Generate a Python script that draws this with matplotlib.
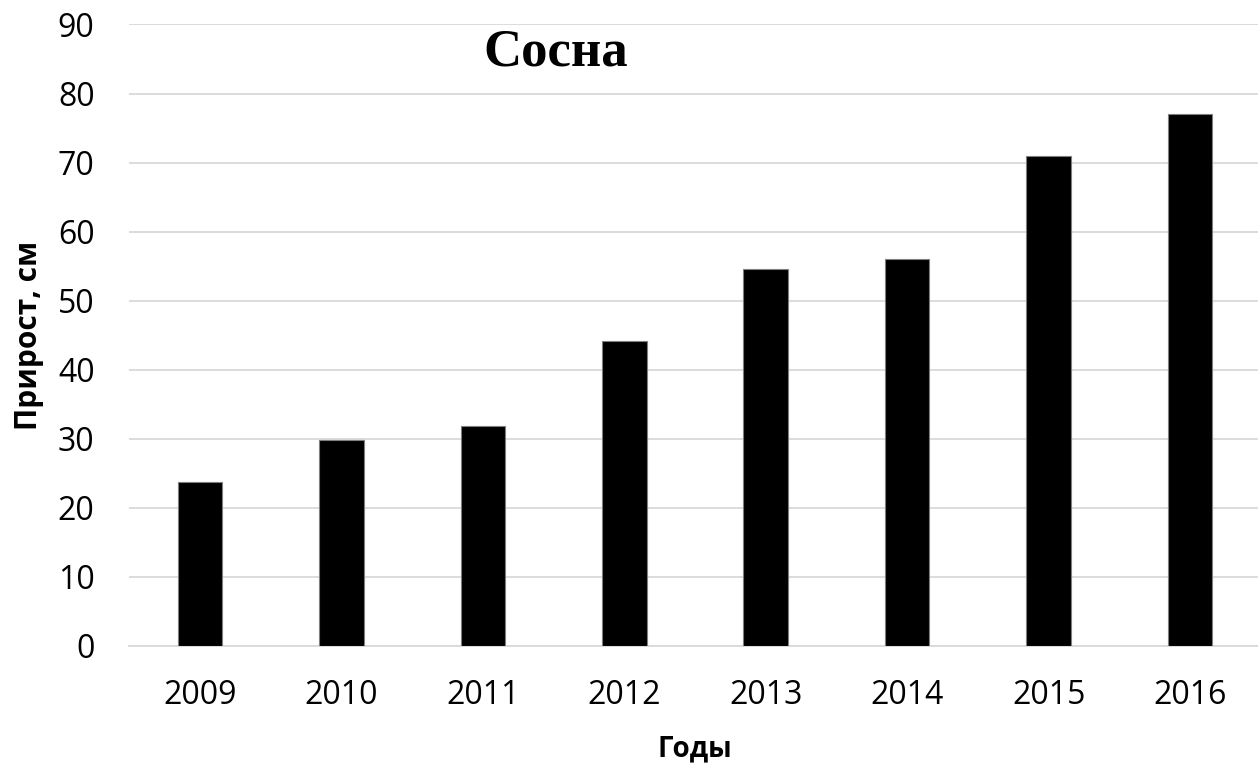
import matplotlib
matplotlib.use("Agg")
import matplotlib.pyplot as plt

# data
years = ["2009", "2010", "2011", "2012", "2013", "2014", "2015", "2016"]
growth = [23.7, 29.9, 31.9, 44.1, 54.6, 56.0, 71.0, 77.0]
y_ticks = list(range(0, 100, 10))

plt.rcParams["font.family"] = ["Open Sans", "DejaVu Sans"]

fig = plt.figure(figsize=(12.58, 7.68), dpi=100)
ax = fig.add_axes([0.1028, 0.1589, 0.8994, 0.8092])

x = range(len(years))
ax.bar(x, growth, width=0.315, color="black", edgecolor="#7f7f7f", linewidth=0.8, zorder=3)

ax.set_xlim(-0.5, len(years) - 0.5)
ax.set_ylim(0, 90)
ax.set_yticks(y_ticks)
ax.set_xticks(list(x))
ax.set_xticklabels(years)
ax.yaxis.grid(True, color="#d9d9d9", linewidth=1.3, zorder=0)
ax.tick_params(axis="both", length=0, labelsize=23, colors="black")
ax.tick_params(axis="x", pad=24)
ax.tick_params(axis="y", pad=25)

for side in ["top", "right", "left"]:
    ax.spines[side].set_visible(False)
ax.spines["bottom"].set_color("#d9d9d9")
ax.spines["bottom"].set_linewidth(1.3)

# axis titles placed in figure coordinates
fig.text(29 / 1258, 1 - 335 / 768, "Прирост, см", rotation=90, ha="center", va="center",
         fontsize=21.5, fontweight="bold")
fig.text(695 / 1258, 1 - 749 / 768, "Годы", ha="center", va="center",
         fontsize=20, fontweight="bold")

fig.text(556 / 1258, 1 - 52 / 768, "Сосна", ha="center", va="center",
         fontsize=38, fontweight="bold", family=["Liberation Serif", "DejaVu Serif"])

fig.savefig("out.png", dpi=100)
